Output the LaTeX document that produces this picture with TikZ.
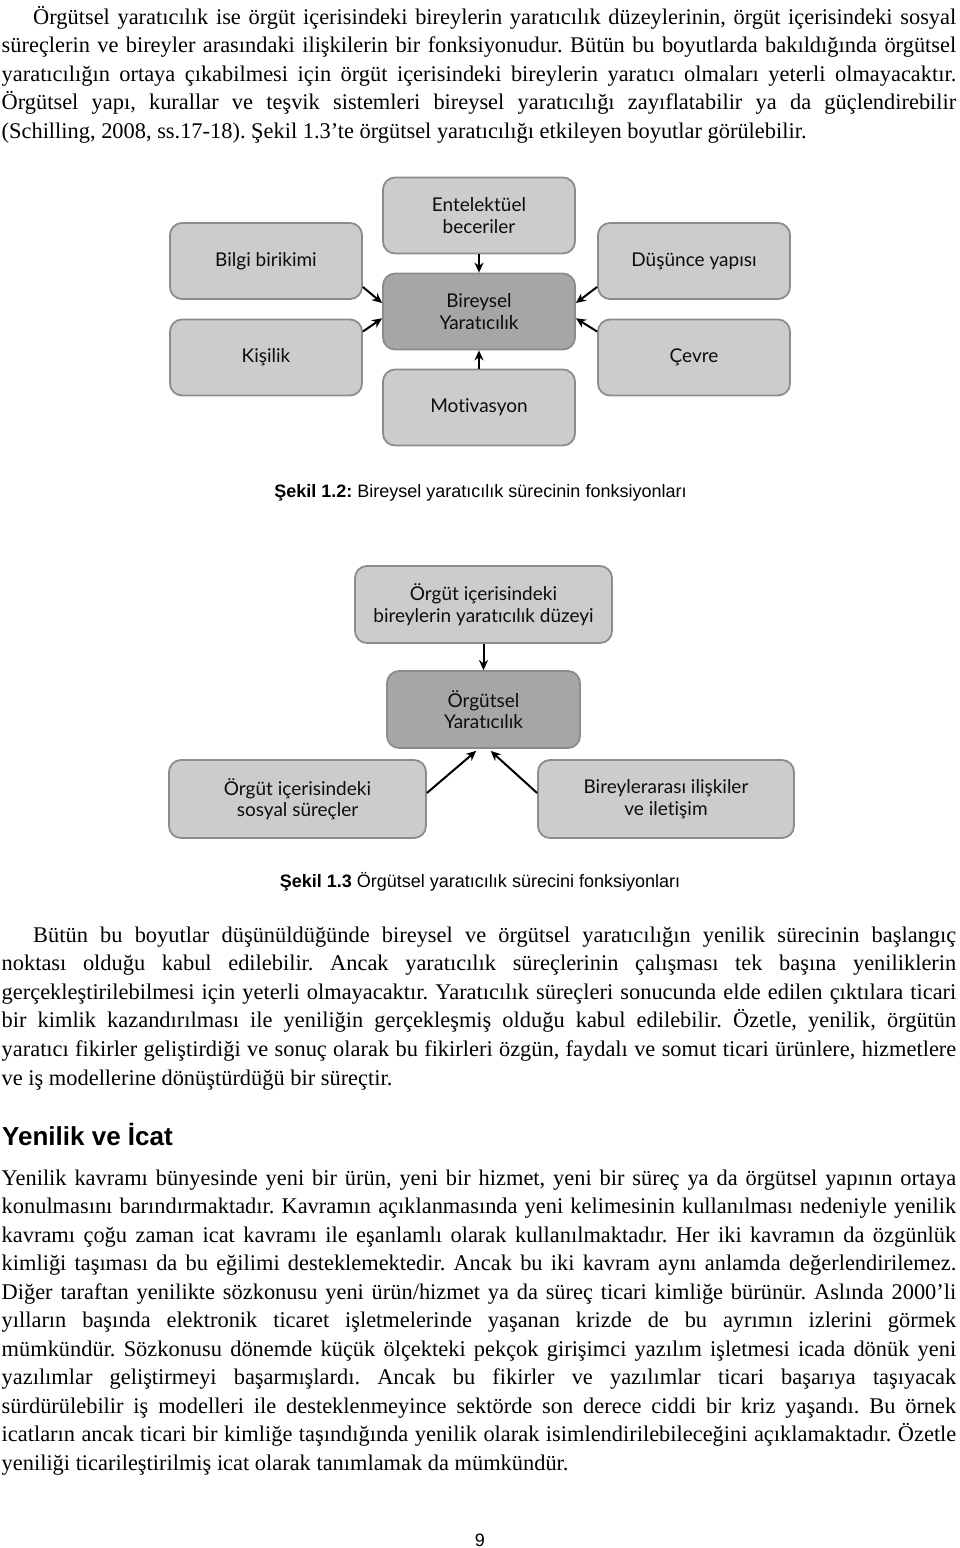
\documentclass[tikz,border=0pt]{standalone}
\usepackage{fontspec}
\setmainfont{Liberation Serif}
\newfontfamily\arialfont{Liberation Sans}
\newfontfamily\kutufont[Ligatures=NoCommon]{Lato}
\usetikzlibrary{arrows.meta}
\newcommand{\tamsatir}[1]{\makebox[954.5pt][s]{#1}}
\newcommand{\girintili}[1]{\makebox[923pt][s]{#1}}
\frenchspacing

\begin{document}
\begin{tikzpicture}[x=1pt,y=-1pt]
        \tikzstyle{metin}=[anchor=base west,inner sep=0pt,font=\fontsize{22.4}{28.5}\selectfont]
        \tikzstyle{kutu}=[draw=black!45,line width=1.8pt,fill=black!20,rounded corners=12pt,minimum width=192pt,minimum height=76pt,inner sep=2pt,align=center,text=black!95,font=\kutufont\fontsize{19}{21.5}\selectfont]
        \tikzstyle{merkez}=[kutu,fill=black!35]
        \tikzstyle{ok}=[-{Stealth[length=10pt,width=9pt]},line width=2pt]
        \tikzstyle{altyazi}=[anchor=base,inner sep=0pt,font=\arialfont\fontsize{18}{20}\selectfont]

        \fill[white] (0,0) rectangle (960,1548);
        \useasboundingbox (0,0) rectangle (960,1548);

        \node[metin] (p1s1) at (33,24) {\girintili{Örgütsel yaratıcılık ise örgüt içerisindeki bireylerin yaratıcılık düzeylerinin, örgüt içerisindeki sosyal}};
        \node[metin] (p1s2) at (1.5,52.5) {\tamsatir{süreçlerin ve bireyler arasındaki ilişkilerin bir fonksiyonudur. Bütün bu boyutlarda bakıldığında örgütsel}};
        \node[metin] (p1s3) at (1.5,81) {\tamsatir{yaratıcılığın ortaya çıkabilmesi için örgüt içerisindeki bireylerin yaratıcı olmaları yeterli olmayacaktır.}};
        \node[metin] (p1s4) at (1.5,109.5) {\tamsatir{Örgütsel yapı, kurallar ve teşvik sistemleri bireysel yaratıcılığı zayıflatabilir ya da güçlendirebilir}};
        \node[metin] (p1s5) at (1.5,138) {(Schilling, 2008, ss.17-18). Şekil 1.3’te örgütsel yaratıcılığı etkileyen boyutlar görülebilir.};

        \node[kutu] (entelektuel) at (479,215.5) {Entelektüel\\beceriler};
        \node[kutu] (bilgi) at (266,261) {Bilgi birikimi};
        \node[kutu] (dusunce) at (694,261) {Düşünce yapısı};
        \node[merkez] (bireysel) at (479,311.5) {Bireysel\\Yaratıcılık};
        \node[kutu] (kisilik) at (266,357.5) {Kişilik};
        \node[kutu] (cevre) at (694,357.5) {Çevre};
        \node[kutu] (motivasyon) at (479,407.5) {Motivasyon};

        \draw[ok] (entelektuel) -- (bireysel);
        \draw[ok] (motivasyon) -- (bireysel);
        \draw[ok] (bilgi.-15) -- (bireysel.175);
        \draw[ok] (kisilik.15) -- (bireysel.-176);
        \draw[ok] (dusunce.-165) -- (bireysel.5);
        \draw[ok] (cevre.165) -- (bireysel.-4);

        \node[altyazi] (sekil2) at (480.5,497) {\bfseries Şekil 1.2:\mdseries{} Bireysel yaratıcılık sürecinin fonksiyonları};

        \node[kutu,minimum width=257pt,minimum height=77pt] (orgut) at (483.5,604.5) {Örgüt içerisindeki\\bireylerin yaratıcılık düzeyi};
        \node[merkez,minimum width=193pt,minimum height=77pt] (orgutsel) at (483.5,709.5) {Örgütsel\\Yaratıcılık};
        \node[kutu,minimum width=257pt,minimum height=78pt] (sosyal) at (297.5,799) {Örgüt içerisindeki\\sosyal süreçler};
        \node[kutu,minimum width=256pt,minimum height=78pt] (iliski) at (666,799) {Bireylerarası ilişkiler\\ve iletişim};

        \draw[ok] (orgut) -- (orgutsel);
        \draw[ok,shorten >=3pt] ([yshift=6pt]sosyal.east) -- ([xshift=-5pt]orgutsel.south);
        \draw[ok,shorten >=3pt] ([yshift=6pt]iliski.west) -- ([xshift=5pt]orgutsel.south);

        \node[altyazi] (sekil3) at (480,887) {\bfseries Şekil 1.3\mdseries{} Örgütsel yaratıcılık sürecini fonksiyonları};

        \node[metin] (p2s1) at (33,942) {\girintili{Bütün bu boyutlar düşünüldüğünde bireysel ve örgütsel yaratıcılığın yenilik sürecinin başlangıç}};
        \node[metin] (p2s2) at (1.5,970.6) {\tamsatir{noktası olduğu kabul edilebilir. Ancak yaratıcılık süreçlerinin çalışması tek başına yeniliklerin}};
        \node[metin] (p2s3) at (1.5,999.2) {\tamsatir{gerçekleştirilebilmesi için yeterli olmayacaktır. Yaratıcılık süreçleri sonucunda elde edilen çıktılara ticari}};
        \node[metin] (p2s4) at (1.5,1027.8) {\tamsatir{bir kimlik kazandırılması ile yeniliğin gerçekleşmiş olduğu kabul edilebilir. Özetle, yenilik, örgütün}};
        \node[metin] (p2s5) at (1.5,1056.4) {\tamsatir{yaratıcı fikirler geliştirdiği ve sonuç olarak bu fikirleri özgün, faydalı ve somut ticari ürünlere, hizmetlere}};
        \node[metin] (p2s6) at (1.5,1085) {ve iş modellerine dönüştürdüğü bir süreçtir.};

        \node[anchor=base west,inner sep=0pt,font=\arialfont\bfseries\fontsize{26}{30}\selectfont] (baslik) at (2,1145) {Yenilik ve İcat};

        \node[metin] (p3s1) at (1.5,1185) {\tamsatir{Yenilik kavramı bünyesinde yeni bir ürün, yeni bir hizmet, yeni bir süreç ya da örgütsel yapının ortaya}};
        \node[metin] (p3s2) at (1.5,1213.5) {\tamsatir{konulmasını barındırmaktadır. Kavramın açıklanmasında yeni kelimesinin kullanılması nedeniyle yenilik}};
        \node[metin] (p3s3) at (1.5,1242) {\tamsatir{kavramı çoğu zaman icat kavramı ile eşanlamlı olarak kullanılmaktadır. Her iki kavramın da özgünlük}};
        \node[metin] (p3s4) at (1.5,1270.5) {\tamsatir{kimliği taşıması da bu eğilimi desteklemektedir. Ancak bu iki kavram aynı anlamda değerlendirilemez.}};
        \node[metin] (p3s5) at (1.5,1299) {\tamsatir{Diğer taraftan yenilikte sözkonusu yeni ürün/hizmet ya da süreç ticari kimliğe bürünür. Aslında 2000’li}};
        \node[metin] (p3s6) at (1.5,1327.5) {\tamsatir{yılların başında elektronik ticaret işletmelerinde yaşanan krizde de bu ayrımın izlerini görmek}};
        \node[metin] (p3s7) at (1.5,1356) {\tamsatir{mümkündür. Sözkonusu dönemde küçük ölçekteki pekçok girişimci yazılım işletmesi icada dönük yeni}};
        \node[metin] (p3s8) at (1.5,1384.5) {\tamsatir{yazılımlar geliştirmeyi başarmışlardı. Ancak bu fikirler ve yazılımlar ticari başarıya taşıyacak}};
        \node[metin] (p3s9) at (1.5,1413) {\tamsatir{sürdürülebilir iş modelleri ile desteklenmeyince sektörde son derece ciddi bir kriz yaşandı. Bu örnek}};
        \node[metin] (p3s10) at (1.5,1441.5) {\tamsatir{icatların ancak ticari bir kimliğe taşındığında yenilik olarak isimlendirilebileceğini açıklamaktadır. Özetle}};
        \node[metin] (p3s11) at (1.5,1470) {yeniliği ticarileştirilmiş icat olarak tanımlamak da mümkündür.};

        \node[altyazi] (sayfa) at (480,1546) {9};
\end{tikzpicture}
\end{document}
